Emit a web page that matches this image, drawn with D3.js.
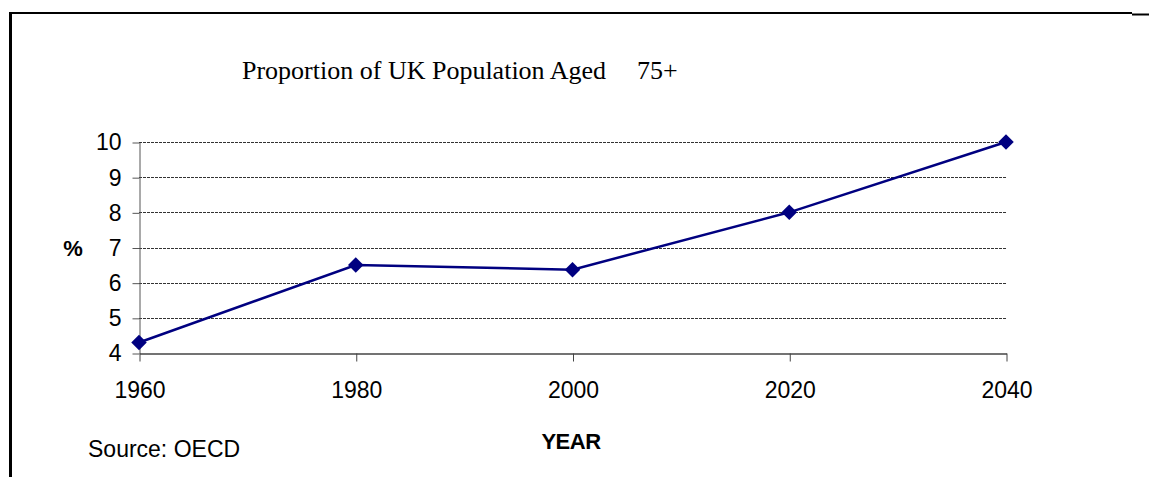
<!DOCTYPE html>
<html>
<head>
<meta charset="utf-8">
<script src="https://cdn.jsdelivr.net/npm/d3@7"></script>
<style>
  body { margin: 0; background: #fff; }
  svg { display: block; }
  .tick text { font-family: Arial, "Liberation Sans", sans-serif; font-size: 23px; fill: #000; }
</style>
</head>
<body>
<svg class="svg1" width="1149" height="477"></svg>
<script>
var years = [1960, 1980, 2000, 2020, 2040];
var pct = [4.3, 6.5, 6.37, 8.0, 10.0];
var yTicks = [4, 5, 6, 7, 8, 9, 10];

var svg1 = d3.select(".svg1");

// frame lines like the pasted excel chart
svg1.append("line").attr("x1", 10.5).attr("x2", 10.5).attr("y1", 12).attr("y2", 477)
    .attr("stroke", "#000").attr("stroke-width", 3);
svg1.append("line").attr("x1", 9).attr("x2", 1132).attr("y1", 13).attr("y2", 13)
    .attr("stroke", "#000").attr("stroke-width", 2);
svg1.append("line").attr("x1", 1132).attr("x2", 1149).attr("y1", 14.5).attr("y2", 14.5)
    .attr("stroke", "#000").attr("stroke-width", 2);

var scaleX = d3.scaleLinear().domain([1960, 2040]).range([139, 1006]);
var scaleY = d3.scaleLinear().domain([4, 10]).range([353, 142]);

// gridlines
svg1.append("g")
    .selectAll("line")
    .data(yTicks.filter(function(d) { return d > 4; }))
    .enter()
    .append("line")
    .attr("x1", 139)
    .attr("x2", 1006)
    .attr("y1", function(d) { return Math.round(scaleY(d)) + 0.5; })
    .attr("y2", function(d) { return Math.round(scaleY(d)) + 0.5; })
    .attr("stroke", "#333")
    .attr("stroke-width", 1)
    .attr("stroke-dasharray", "3,1");

var yAxis = d3.axisLeft(scaleY).tickValues(yTicks).tickFormat(d3.format("d"))
    .tickSize(7).tickSizeOuter(0).tickPadding(11);
svg1.append("g")
    .attr("transform", "translate(139.5,0.5)")
    .call(yAxis)
    .call(function(g) {
        g.select(".domain").attr("stroke", "#555");
        g.selectAll(".tick line").attr("stroke", "#555");
    });

var xAxis = d3.axisBottom(scaleX).tickValues(years).tickFormat(d3.format("d"))
    .tickSize(8).tickSizeOuter(0).tickPadding(20);
svg1.append("g")
    .attr("transform", "translate(0.5," + (Math.round(scaleY(4)) + 0.5) + ")")
    .call(xAxis)
    .call(function(g) {
        g.select(".domain").attr("stroke", "#444").attr("stroke-width", 1.5);
        g.selectAll(".tick line").attr("stroke", "#444");
    });

var line = d3.line()
    .x(function(d, i) { return scaleX(years[i]); })
    .y(function(d) { return scaleY(d); });

svg1.append("path")
    .datum(pct)
    .attr("d", line)
    .attr("fill", "none")
    .attr("stroke", "#000080")
    .attr("stroke-width", 2.5);

svg1.selectAll(".pt")
    .data(pct)
    .enter()
    .append("path")
    .attr("class", "pt")
    .attr("d", d3.symbol().type(d3.symbolSquare).size(120))
    .attr("transform", function(d, i) {
        return "translate(" + scaleX(years[i]) + "," + scaleY(d) + ") rotate(45)";
    })
    .attr("fill", "#000080");

svg1.append("text")
    .attr("x", 242)
    .attr("y", 79)
    .style("font-family", "'Liberation Serif', 'Times New Roman', serif")
    .style("font-size", "26px")
    .text("Proportion of UK Population Aged");

svg1.append("text")
    .attr("x", 637)
    .attr("y", 79)
    .style("font-family", "'Liberation Serif', 'Times New Roman', serif")
    .style("font-size", "26px")
    .text("75+");

svg1.append("text")
    .attr("x", 73)
    .attr("y", 256)
    .attr("text-anchor", "middle")
    .style("font-family", "Arial, 'Liberation Sans', sans-serif")
    .style("font-size", "22px")
    .style("font-weight", "bold")
    .text("%");

svg1.append("text")
    .attr("x", 571)
    .attr("y", 449)
    .attr("text-anchor", "middle")
    .style("font-family", "Arial, 'Liberation Sans', sans-serif")
    .style("font-size", "22px")
    .style("font-weight", "bold")
    .style("letter-spacing", "-0.5px")
    .text("YEAR");

svg1.append("text")
    .attr("x", 88)
    .attr("y", 457)
    .style("font-family", "Arial, 'Liberation Sans', sans-serif")
    .style("font-size", "23px")
    .text("Source: OECD");
</script>
</body>
</html>
